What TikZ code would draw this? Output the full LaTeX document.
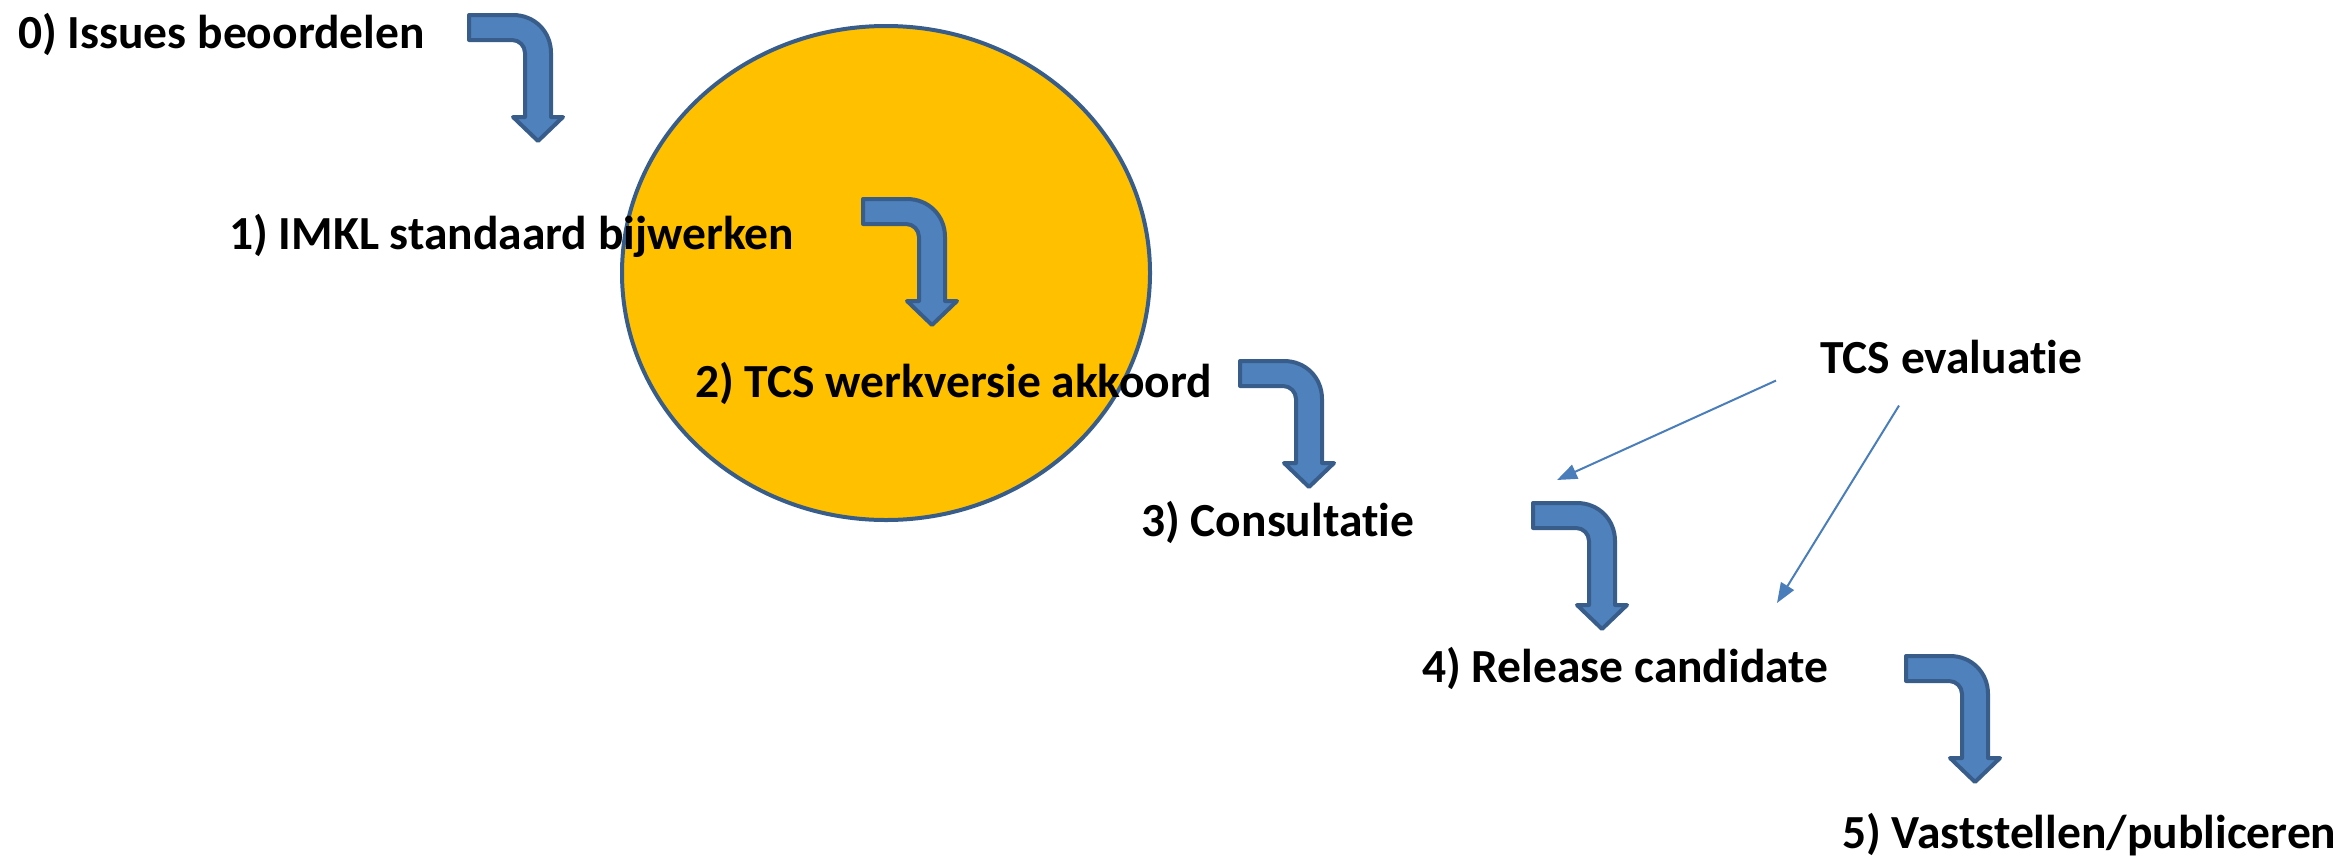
\documentclass[tikz,border=0pt]{standalone}
\usepackage{fontspec}
\setmainfont{Carlito}[Ligatures=NoCommon]
\usetikzlibrary{arrows.meta}
\definecolor{stepfill}{HTML}{4F81BD}
\definecolor{stepline}{HTML}{385D8A}
\definecolor{tcsgold}{HTML}{FFC000}
\definecolor{evalblue}{HTML}{4A7EBB}
\tikzset{
  steplabel/.style={anchor=base west,inner sep=0pt,font=\bfseries\fontsize{47.5}{57}\selectfont},
  bentarrow/.pic={
    \filldraw[fill=stepfill,draw=stepline,line width=4pt,line join=round]
      (2,2)--(46,2) .. controls (67.5,2) and (84,18.5) .. (84,40)
      --(84,104)--(96,104)--(71,128)--(46,104)--(58,104)
      --(58,40) .. controls (58,32.8) and (52.2,27) .. (45,27)
      --(2,27)--cycle;
  }
}
\begin{document}
\begin{tikzpicture}[x=1pt,y=-1pt,>={Triangle[length=20pt,width=15pt]}]
\useasboundingbox (0,0) rectangle (2344,860);
\filldraw[fill=tcsgold,draw=stepline,line width=4pt](886,273) ellipse [x radius=264, y radius=247];
% stappen
\node[steplabel] (s0) at (18,48) {0) Issues beoordelen};
\node[steplabel] (s1) at (229,249) {1) IMKL standaard bijwerken};
\node[steplabel] (s2) at (695,397) {2) TCS werkversie akkoord};
\node[steplabel] (s3) at (1141,536) {3) Consultatie};
\node[steplabel] (s4) at (1422,682) {4) Release candidate};
\node[steplabel] (s5) at (1842,848) {5) Vaststellen/publiceren};
\pic at (467,13) {bentarrow};
\pic at (861,197) {bentarrow};
\pic at (1238,359) {bentarrow};
\pic at (1531,501) {bentarrow};
\pic at (1904,654) {bentarrow};
% evaluatie
\node[steplabel] (eval) at (1820,373) {TCS evaluatie};
\coordinate (e1) at (1557,480);
\coordinate (e2) at (1777,603);
\draw[->,evalblue,line width=2pt]([shift={(-44,7)}]eval.south west)--(e1);
\draw[->,evalblue,line width=2pt]([shift={(79,32)}]eval.south west)--(e2);
\end{tikzpicture}
\end{document}
